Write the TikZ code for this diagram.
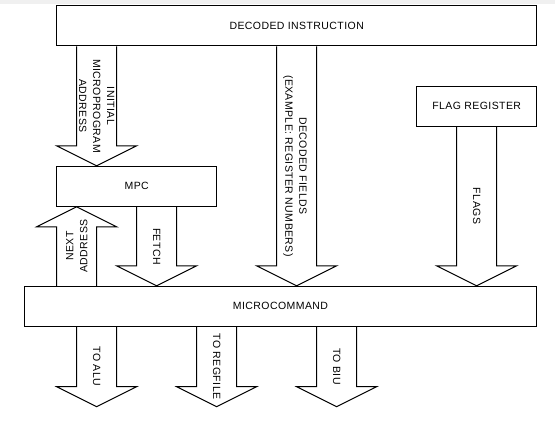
\documentclass[tikz,border=0pt]{standalone}
\usepackage{fontspec}
\setmainfont{Liberation Sans}[LetterSpace=4]
\usetikzlibrary{calc}

\begin{document}
\begin{tikzpicture}[x=1pt, y=-1pt, font=\fontsize{10.5}{14}\selectfont,
		box/.style={draw, rectangle, line width=1pt, minimum height=40pt},
		lbl/.style={align=center, inner sep=0pt},
		fat/.style={line width=1pt, line join=miter, to path={let \p1=(\tikztostart), \p2=(\tikztotarget), \n1={sign(\y2-\y1)} in
			(\x1-20pt,\y1) -- (\x1-20pt,\y2-\n1*20pt) -- (\x1-40pt,\y2-\n1*20pt) -- (\x2,\y2)
			-- (\x1+40pt,\y2-\n1*20pt) -- (\x1+20pt,\y2-\n1*20pt) -- (\x1+20pt,\y1)}}]
				\fill[gray!12] (0,0) rectangle (555,4);
				\useasboundingbox (0,0) rectangle (555,430);
				\node[box, minimum width=480pt] (DI)at(296.7, 26) {DECODED INSTRUCTION};
				\node[box, minimum width=120pt] (FR)at(476.7, 106.3) {FLAG REGISTER};
				\node[box, minimum width=160pt] (MPC)at(136.7, 186.3) {MPC};
				\node[box, minimum width=512.4pt] (MC)at(280.5, 306.3) {MICROCOMMAND};
				\coordinate (ALU)at(96.7, 406.7);
				\coordinate (REG)at(216.7, 406.7);
				\coordinate (BIU)at(336.7, 406.7);
				\draw[fat] (96.7,0 |- DI.south) to (96.7,0 |- MPC.north);
				\draw[fat] (76.7,0 |- MC.north) to (76.7,0 |- MPC.south);
				\draw[fat] (156.7,0 |- MPC.south) to (156.7,0 |- MC.north);
				\draw[fat] (296.7,0 |- DI.south) to (296.7,0 |- MC.north);
				\draw[fat] (476.7,0 |- FR.south) to (476.7,0 |- MC.north);
				\draw[fat] (ALU |- MC.south) to (ALU);
				\draw[fat] (REG |- MC.south) to (REG);
				\draw[fat] (BIU |- MC.south) to (BIU);
				\node[lbl, rotate=-90] (tInit)at(96.7, 106) {INITIAL\\MICROPROGRAM\\ADDRESS};
				\node[lbl, rotate=90] (tNext)at(76.7, 246) {NEXT\\ADDRESS};
				\node[lbl, rotate=-90] (tFetch)at(156.7, 246.5) {FETCH};
				\node[lbl, rotate=-90] (tFields)at(295, 166) {DECODED FIELDS\\(EXAMPLE: REGISTER NUMBERS)};
				\node[lbl, rotate=-90] (tFlags)at(476.7, 206) {FLAGS};
				\node[lbl, rotate=-90] (tAlu)at(96.7, 366.5) {TO ALU};
				\node[lbl, rotate=-90] (tReg)at(216.7, 366.5) {TO REGFILE};
				\node[lbl, rotate=-90] (tBiu)at(336.7, 366.5) {TO BIU};
			\end{tikzpicture}
\end{document}
